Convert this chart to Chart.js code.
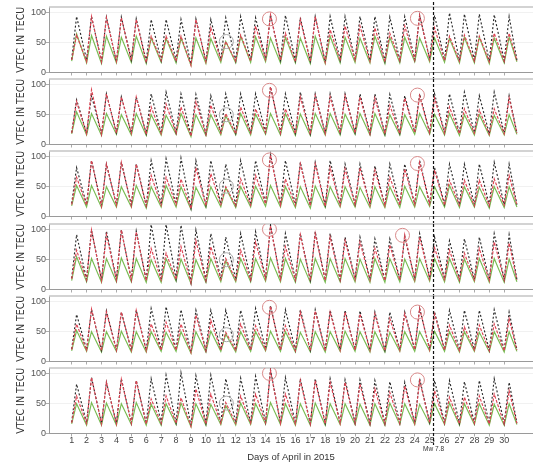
<!DOCTYPE html>
<html>
<head>
<meta charset="utf-8">
<script src="https://cdn.jsdelivr.net/npm/chart.js@4.4.1/dist/chart.umd.min.js"></script>
<style>
  html, body { margin: 0; padding: 0; background: #fff; }
  #wrap { position: relative; width: 533px; height: 464px; overflow: hidden; }
  .panel { position: absolute; left: 0; width: 533px; }
</style>
</head>
<body>
<div id="wrap"></div>
<script>
const days = [1,2,3,4,5,6,7,8,9,10,11,12,13,14,15,16,17,18,19,20,21,22,23,24,25,26,27,28,29,30]
const yTickValues = [0, 50, 100]
const peakOffset = 0.33   // daily maximum around 08 UT
const endDay = 30.85
const quakeDay = 25.26    // Mw 7.8, 25 April 06:11 UT

// daily maxima (TECU)
const p1BlackPeak = [94,94,93,93,90,89,89,89,90,89,92,94,92,97,96,92,94,94,94,94,94,93,94,96,96,100,98,98,97,94]
const p1RedPeak   = [63,94,92,92,89,61,61,61,89,75,52,63,78,97,66,89,94,72,78,78,75,66,78,96,75,61,63,61,66,66]
const p1GreenPeak = [65,62,61,59,61,58,57,58,58,57,52,61,60,58,59,58,61,61,59,58,61,59,59,58,58,57,59,59,58,59]
const p2BlackPeak = [75,82,85,80,80,85,88,85,84,82,85,85,85,97,85,88,85,85,85,85,85,84,82,85,85,85,88,82,88,82]
const p2RedPeak   = [72,92,85,80,80,63,68,63,72,66,52,63,60,97,60,80,82,80,82,80,78,66,78,82,78,63,60,58,60,78]
const p2GreenPeak = [55,52,52,50,52,50,49,52,50,50,48,52,51,52,52,51,52,52,51,52,52,50,50,52,51,52,50,50,49,50]
const p3BlackPeak = [82,94,88,91,88,94,97,98,94,94,88,94,94,104,94,91,91,94,88,88,85,88,88,94,82,88,88,88,91,88]
const p3RedPeak   = [66,94,88,91,88,69,66,63,82,72,50,63,69,103,63,88,88,82,80,82,78,66,80,91,78,61,61,61,63,69]
const p3GreenPeak = [52,52,50,50,52,50,52,50,49,50,48,50,51,52,50,50,51,50,50,49,50,50,51,50,50,52,50,49,50,50]
const p4BlackPeak = [92,100,98,100,98,109,109,108,100,94,88,94,97,108,94,94,97,94,88,88,85,85,88,94,88,82,85,88,94,92]
const p4RedPeak   = [66,100,92,100,97,69,61,72,82,72,52,66,80,107,72,92,94,88,82,80,69,75,92,88,70,66,61,69,80,78]
const p4GreenPeak = [55,52,52,53,52,50,52,51,50,52,48,52,52,53,52,51,52,52,52,51,52,52,51,52,52,52,51,52,52,51]
const p5BlackPeak = [79,87,85,83,86,89,92,87,86,86,86,86,89,94,87,87,87,86,86,85,83,83,83,89,83,86,86,86,87,83]
const p5RedPeak   = [63,88,83,83,86,63,66,63,78,69,49,63,60,93,60,83,85,83,83,80,80,72,80,89,80,61,58,61,63,72]
const p5GreenPeak = [52,50,50,51,50,50,49,50,50,51,46,50,50,51,50,49,50,50,51,50,50,49,50,50,51,50,50,49,50,50]
const p6BlackPeak = [83,94,86,92,89,92,98,102,97,98,92,93,96,107,94,92,92,92,90,90,89,87,86,92,89,89,87,89,92,86]
const p6RedPeak   = [63,94,86,91,89,58,63,60,75,66,52,63,66,106,66,89,89,86,86,83,75,69,80,89,72,61,61,63,66,72]
const p6GreenPeak = [50,52,51,50,52,49,50,51,50,49,47,51,50,52,50,50,51,50,50,49,50,51,50,49,50,51,50,50,49,50]

// daily minima (TECU) at the start of each day, plus the closing value
const p1BlackLow = [22,21,19,18,21,19,20,21,14,19,22,20,21,23,21,20,19,18,21,21,20,19,21,22,23,21,20,21,19,20,21]
const p1RedLow   = [21,18,18,19,20,17,20,19,12,18,21,19,19,22,20,18,18,17,20,21,19,18,20,21,22,20,19,19,18,19,20]
const p1GreenLow = [19,16,15,16,17,15,17,16,12,15,17,16,17,18,16,16,15,15,16,17,16,15,16,18,18,17,16,16,15,16,18]
const p2BlackLow = [20,19,18,20,19,18,19,20,15,18,20,19,19,21,20,19,18,19,20,20,19,18,19,21,21,20,19,20,18,19,20]
const p2RedLow   = [19,18,17,19,19,17,18,19,14,17,19,18,19,20,19,18,17,18,19,19,18,18,18,20,20,19,18,19,17,18,19]
const p2GreenLow = [18,16,15,17,16,15,16,17,13,15,16,16,16,17,16,15,15,16,16,17,16,15,16,17,17,16,15,16,15,16,17]
const p3BlackLow = [22,20,19,20,20,19,20,21,14,19,21,20,20,22,21,20,19,19,20,21,20,19,20,21,22,21,20,20,19,20,20]
const p3RedLow   = [20,19,17,19,18,18,19,20,13,18,20,18,19,21,19,19,18,17,19,20,19,18,19,20,21,19,19,18,18,19,19]
const p3GreenLow = [18,16,15,16,16,14,16,16,12,15,16,15,16,17,16,15,14,15,16,16,15,15,15,16,17,16,15,16,14,15,16]
const p4BlackLow = [19,17,16,17,17,16,16,18,12,16,18,17,17,19,18,17,16,16,17,18,17,16,17,18,19,18,17,17,16,17,17]
const p4RedLow   = [18,16,15,16,16,15,16,17,11,15,17,16,16,18,17,16,15,15,16,17,16,15,16,17,18,17,16,16,15,16,16]
const p4GreenLow = [15,13,12,13,13,12,12,14,10,12,13,13,13,14,13,12,12,12,13,13,12,12,13,13,14,13,12,13,12,12,13]
const p5BlackLow = [21,20,19,20,19,19,20,20,16,19,20,19,20,21,20,19,19,19,20,20,19,19,20,20,21,20,19,20,19,19,20]
const p5RedLow   = [20,19,18,19,19,18,19,19,15,18,19,19,19,20,19,18,18,18,19,19,19,18,19,20,20,19,18,19,18,18,19]
const p5GreenLow = [18,17,16,17,16,16,17,17,14,16,17,16,17,18,17,16,16,16,17,17,16,16,17,17,18,17,16,17,16,16,17]
const p6BlackLow = [19,18,17,17,18,17,18,18,13,17,18,18,18,19,18,17,17,17,18,18,17,17,18,18,19,18,17,18,17,17,18]
const p6RedLow   = [18,17,16,16,17,16,17,17,12,16,17,17,17,18,17,16,16,16,17,17,16,16,17,17,18,17,16,17,16,16,17]
const p6GreenLow = [16,14,14,14,15,14,14,15,11,14,15,14,15,16,15,14,14,14,15,15,14,14,15,15,16,15,14,15,14,14,15]

// marked anomalies: [day, TECU]
const p1RedCircles = [[14.26, 90], [24.18, 91]]
const p2RedCircles = [[14.26, 91], [24.18, 83]]
const p3RedCircles = [[14.26, 95], [24.18, 89]]
const p4RedCircles = [[14.26, 101], [23.18, 91]]
const p5RedCircles = [[14.26, 91], [24.18, 83]]
const p6RedCircles = [[14.26, 101], [24.18, 90]]
const p1GrayCircles = [[11.37, 52]]
const p2GrayCircles = [[11.37, 50]]
const p3GrayCircles = [[11.37, 51]]
const p4GrayCircles = [[11.37, 50]]
const p5GrayCircles = [[11.37, 45]]
const p6GrayCircles = [[11.37, 51]]

function toPoints(lows, peaks) {
  const pts = []
  days.forEach((d, i) => {
    pts.push({ x: d, y: lows[i] })
    pts.push({ x: d + peakOffset, y: peaks[i] })
  })
  pts.push({ x: endDay, y: lows[lows.length - 1] })
  return pts
}

// canvases overlap a little so every panel keeps room for its tick labels
const panels = [
  { top: 1,   height: 78,  black: [p1BlackLow, p1BlackPeak], red: [p1RedLow, p1RedPeak], green: [p1GreenLow, p1GreenPeak], rc: p1RedCircles, gc: p1GrayCircles },
  { top: 73,  height: 78,  black: [p2BlackLow, p2BlackPeak], red: [p2RedLow, p2RedPeak], green: [p2GreenLow, p2GreenPeak], rc: p2RedCircles, gc: p2GrayCircles },
  { top: 145, height: 78,  black: [p3BlackLow, p3BlackPeak], red: [p3RedLow, p3RedPeak], green: [p3GreenLow, p3GreenPeak], rc: p3RedCircles, gc: p3GrayCircles },
  { top: 218, height: 78,  black: [p4BlackLow, p4BlackPeak], red: [p4RedLow, p4RedPeak], green: [p4GreenLow, p4GreenPeak], rc: p4RedCircles, gc: p4GrayCircles },
  { top: 290, height: 78,  black: [p5BlackLow, p5BlackPeak], red: [p5RedLow, p5RedPeak], green: [p5GreenLow, p5GreenPeak], rc: p5RedCircles, gc: p5GrayCircles },
  { top: 362, height: 102, black: [p6BlackLow, p6BlackPeak], red: [p6RedLow, p6RedPeak], green: [p6GreenLow, p6GreenPeak], rc: p6RedCircles, gc: p6GrayCircles }
]

const PAD_TOP = 6
const PLOT_H = 65.5
const FONT = "'Liberation Sans', Arial, sans-serif"
const NARROW = "'Liberation Sans Narrow', 'DejaVu Sans Condensed', 'Liberation Sans', sans-serif"

// panel frame top line + earthquake marker
const framePlugin = {
  id: 'frame',
  beforeDatasetsDraw(chart) {
    const { ctx, chartArea: a } = chart
    ctx.save()
    ctx.strokeStyle = '#c4c4c4'
    ctx.lineWidth = 1.5
    ctx.beginPath()
    ctx.moveTo(a.left, a.top)
    ctx.lineTo(a.right, a.top)
    ctx.stroke()
    ctx.restore()
  },
  afterDraw(chart, args, opts) {
    const { ctx, chartArea: a } = chart
    const x = chart.scales.x.getPixelForValue(quakeDay)
    ctx.save()
    ctx.strokeStyle = '#111'
    ctx.lineWidth = 1.2
    ctx.setLineDash([3, 2])
    ctx.beginPath()
    ctx.moveTo(x, opts.first ? 1 : a.top)
    ctx.lineTo(x, opts.last ? 83 : a.bottom + 6.7)
    ctx.stroke()
    if (opts.last) {
      ctx.setLineDash([])
      ctx.fillStyle = '#333'
      ctx.font = '6.5px ' + FONT
      ctx.textAlign = 'center'
      ctx.textBaseline = 'middle'
      ctx.fillText('Mw 7.8', x, 87.5)
    }
    ctx.restore()
  }
}

const wrap = document.getElementById('wrap')

panels.forEach((p, idx) => {
  const last = idx === panels.length - 1
  const div = document.createElement('div')
  div.className = 'panel'
  div.style.top = p.top + 'px'
  div.style.height = p.height + 'px'
  const cv = document.createElement('canvas')
  cv.width = 533
  cv.height = p.height
  div.appendChild(cv)
  wrap.appendChild(div)

  const lineBase = { pointRadius: 0, borderWidth: 1.15, tension: 0, fill: false }

  new Chart(cv, {
    type: 'line',
    data: {
      datasets: [
        { type: 'scatter', data: p.gc.map(([x, y]) => ({ x, y })), pointRadius: 7, borderColor: '#a9a9a9', backgroundColor: 'rgba(0,0,0,0)', borderWidth: 1, order: 0 },
        { type: 'scatter', data: p.rc.map(([x, y]) => ({ x, y })), pointRadius: 7, borderColor: '#d98a8a', backgroundColor: 'rgba(0,0,0,0)', borderWidth: 1, order: 1 },
        { ...lineBase, data: toPoints(p.red[0], p.red[1]), borderColor: '#dc4453', borderDash: [3, 1.5], order: 2 },
        { ...lineBase, data: toPoints(p.black[0], p.black[1]), borderColor: '#2a2a2a', borderDash: [2, 2], order: 3 },
        { ...lineBase, data: toPoints(p.green[0], p.green[1]), borderColor: '#78bb52', order: 4 }
      ]
    },
    options: {
      responsive: false,
      animation: false,
      devicePixelRatio: 1,
      layout: { autoPadding: false, padding: { top: PAD_TOP, left: 0, right: 0, bottom: 0 } },
      plugins: {
        legend: { display: false },
        tooltip: { enabled: false },
        frame: { first: idx === 0, last: last }
      },
      scales: {
        x: {
          type: 'linear',
          min: -0.52,
          max: 31.93,
          afterBuildTicks(axis) { axis.ticks = days.map(v => ({ value: v })) },
          afterFit(axis) { axis.height = p.height - PAD_TOP - PLOT_H },
          grid: { drawOnChartArea: false, drawTicks: true, tickLength: 3, tickColor: '#aaa' },
          border: { display: true, color: '#9a9a9a', width: 1 },
          ticks: {
            display: last,
            autoSkip: false,
            maxRotation: 0,
            padding: -1,
            color: '#444',
            font: { family: FONT, size: 9 },
            callback: v => String(v)
          },
          title: {
            display: last,
            text: 'Days of April in 2015',
            color: '#333',
            font: { family: FONT, size: 9.5 },
            padding: { top: 0, bottom: 0.5 }
          }
        },
        y: {
          min: 0,
          max: 110,
          afterBuildTicks(axis) { axis.ticks = yTickValues.map(v => ({ value: v })) },
          afterFit(axis) { axis.width = 49 },
          grid: { color: '#ededed', lineWidth: 0.8, drawTicks: true, tickLength: 3, tickColor: '#999' },
          border: { display: true, color: '#9a9a9a', width: 1 },
          ticks: { padding: 0, color: '#555', font: { family: FONT, size: 9 } },
          title: {
            display: true,
            text: 'VTEC IN TECU',
            color: '#333',
            font: { family: NARROW, size: 10.5 },
            padding: { top: 14.5, bottom: 0 }
          }
        }
      }
    },
    plugins: [framePlugin]
  })
})
</script>
</body>
</html>
